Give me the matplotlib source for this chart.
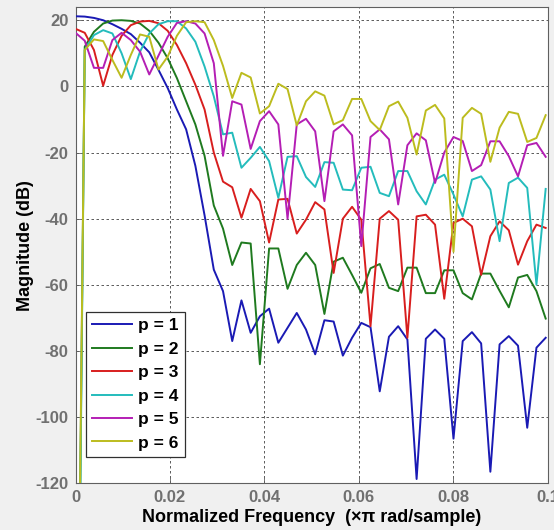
import numpy as np
import matplotlib
matplotlib.use("Agg")
import matplotlib.pyplot as plt

# frequency grid (x pi rad/sample), 512-point grid, first 52 bins
freq = np.arange(52) / 512.0

p1 = [21.2, 21.1, 20.7, 20.0, 18.8, 17.4, 15.8, 13.2, 10.3, 5.0,
      -0.5, -7.0, -13.0, -24.0, -39.0, -55.4, -61.9, -77.0, -64.7, -74.5,
      -69.5, -67.2, -77.5, -73.0, -68.5, -73.5, -81.0, -70.7, -71.1, -81.4,
      -76.0, -71.5, -72.8, -92.2, -75.7, -72.5, -76.5, -118.7, -76.3, -73.5,
      -76.3, -106.5, -77.0, -74.3, -77.7, -116.5, -78.0, -75.5, -78.4, -103.2,
      -79.0, -76.0]
p2 = [-260.0, 12.0, 16.5, 19.0, 19.9, 20.0, 19.8, 19.0, 16.8, 13.2,
      8.5, 2.5, -4.5, -11.5, -21.0, -36.0, -43.0, -54.0, -47.2, -47.5,
      -84.0, -49.0, -49.0, -61.2, -54.0, -50.3, -54.0, -68.8, -53.0, -51.8,
      -57.0, -62.4, -55.0, -53.7, -60.9, -61.9, -54.8, -54.8, -62.5, -62.5,
      -55.6, -55.6, -62.5, -64.4, -56.6, -56.6, -61.8, -66.8, -57.8, -57.0,
      -61.9, -70.2]
p3 = [17.4, 16.2, 11.0, 0.2, 9.5, 15.3, 18.5, 19.6, 19.8, 19.1,
      16.8, 12.5, 7.0, 0.5, -7.0, -20.0, -28.8, -30.5, -39.7, -31.0,
      -34.7, -47.2, -34.2, -34.0, -44.5, -40.3, -35.0, -37.2, -56.4, -40.0,
      -36.4, -40.3, -72.5, -40.0, -37.7, -40.3, -76.0, -39.3, -38.8, -41.8,
      -64.2, -41.3, -40.0, -42.3, -57.0, -45.3, -40.8, -43.5, -53.9, -46.8,
      -41.8, -42.8]
p4 = [-270.0, 11.0, 15.5, 17.0, 16.0, 10.0, 2.2, 10.5, 16.0, 18.8,
      19.7, 19.7, 17.5, 13.5, 6.0, -3.0, -14.5, -14.0, -24.6, -21.6,
      -18.3, -22.6, -33.7, -21.3, -21.1, -27.4, -30.4, -22.9, -23.1, -31.2,
      -31.4, -24.6, -24.3, -32.2, -33.2, -25.6, -25.6, -31.7, -35.7, -28.2,
      -26.7, -32.7, -39.3, -28.2, -27.2, -31.2, -46.8, -29.2, -27.6, -30.7,
      -59.9, -31.0]
p5 = [16.2, 13.8, 5.6, 5.6, 14.0, 16.2, 14.0, 10.5, 3.6, 9.3,
      15.0, 19.2, 19.7, 19.0, 16.0, 7.0, -21.0, -4.5, -5.5, -18.9,
      -10.5, -7.5, -11.5, -40.0, -11.5, -9.8, -13.6, -34.7, -13.6, -11.5,
      -14.8, -48.3, -15.3, -13.0, -16.0, -35.7, -17.8, -14.2, -16.3, -29.2,
      -20.0, -15.3, -16.5, -25.6, -23.8, -16.6, -16.6, -21.1, -27.2, -17.8,
      -17.1, -21.3]
p6 = [-250.0, 11.0, 14.2, 13.7, 8.0, 2.6, 9.5, 15.7, 15.0, 5.1,
      9.0, 15.3, 19.4, 19.7, 19.4, 14.0, 6.2, -3.5, 4.1, 2.7,
      -8.2, -6.0, 0.8, -0.8, -11.8, -4.5, -1.5, -2.8, -11.5, -10.2,
      -3.8, -3.8, -10.5, -13.2, -6.0, -4.6, -9.5, -20.6, -7.3, -5.6,
      -9.7, -50.0, -9.5, -6.5, -8.3, -22.8, -12.5, -7.7, -8.3, -16.8,
      -15.6, -8.7]

series = [p1, p2, p3, p4, p5, p6]
labels = ["p = 1", "p = 2", "p = 3", "p = 4", "p = 5", "p = 6"]
colors = ["#1a1ab4", "#1f7a1f", "#d81e1e", "#24bcbc", "#b41eb4", "#bcbc1e"]

xticks = [0, 0.02, 0.04, 0.06, 0.08, 0.1]
xticklabels = ["0", "0.02", "0.04", "0.06", "0.08", "0.1"]
yticks = [-120, -100, -80, -60, -40, -20, 0, 20]

plt.rcParams['font.family'] = ['Liberation Sans', 'DejaVu Sans']
plt.rcParams['axes.unicode_minus'] = False

fig = plt.figure(figsize=(5.54, 5.30), dpi=100, facecolor="#f0f0f0")
ax = fig.add_axes([0.1363, 0.0881, 0.8520, 0.8987])
ax.set_facecolor("white")

for s, lab, c in zip(series, labels, colors):
    ax.plot(freq, s, color=c, lw=1.4, label=lab, zorder=3)

ax.set_xlim(0, 0.1)
ax.set_ylim(-120, 24)
ax.set_xticks(xticks)
ax.set_xticklabels(xticklabels)
ax.set_yticks(yticks)
ax.tick_params(direction="in", length=4, width=0.6, colors="#606060",
               labelcolor="#707070", labelsize=12, pad=5)
for lbl in ax.get_xticklabels() + ax.get_yticklabels():
    lbl.set_fontweight("bold")
ax.grid(True, color="#404040", linestyle=(0, (3, 3)), linewidth=0.6)
for sp in ax.spines.values():
    sp.set_color("#606060")
    sp.set_linewidth(0.8)

ax.set_xlabel("Normalized Frequency  (\u00d7\u03c0 rad/sample)", fontsize=13,
              fontweight="bold", color="black", labelpad=3)
ax.set_ylabel("Magnitude (dB)", fontsize=13, fontweight="bold", color="black",
              labelpad=1)

leg = ax.legend(loc="lower left", bbox_to_anchor=(0.022, 0.056),
                borderaxespad=0, fancybox=False, framealpha=1,
                edgecolor="#303030", prop={"weight": "bold", "size": 12.5},
                handlelength=2.3, handletextpad=0.35, labelspacing=0.48,
                borderpad=0.35)
leg.get_frame().set_linewidth(0.9)

fig.savefig("out.png", dpi=100, facecolor=fig.get_facecolor())
